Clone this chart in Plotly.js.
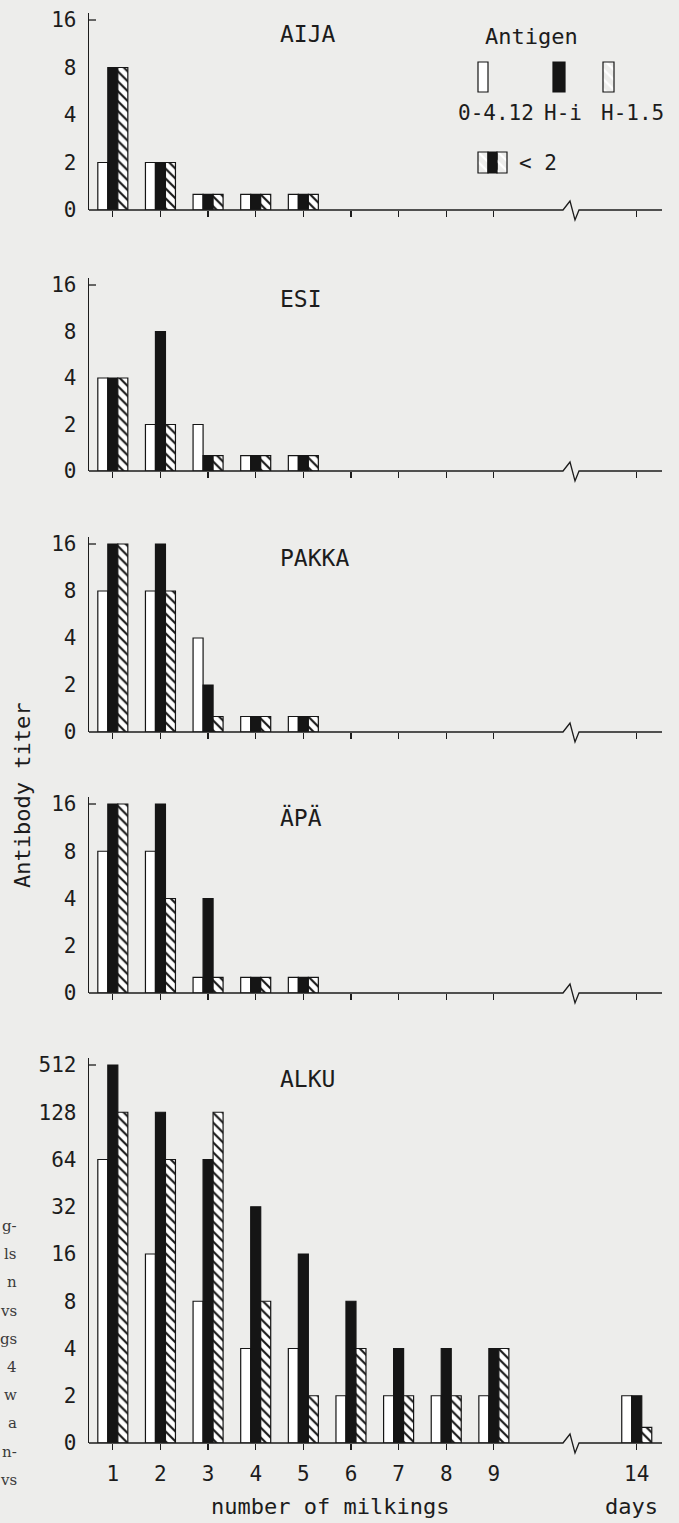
<!DOCTYPE html>
<html><head><meta charset="utf-8">
<script src="https://cdn.plot.ly/plotly-3.0.1.min.js"></script>
<style>html,body{margin:0;padding:0;background:#ededeb;overflow:hidden}</style>
</head><body><div id="chart" style="width:679px;height:1523px"></div>
<script>
// ---------------- data ----------------
const milkings = [1, 2, 3, 4, 5, 6, 7, 8, 9, 14];
const antigens = ['0-4.12', 'H-i', 'H-1.5'];
const panelNames = ['AIJA', 'ESI', 'PAKKA', 'ÄPÄ', 'ALKU'];
const ticksLow = ['0', '2', '4', '8', '16'];
const ticksAlku = ['0', '2', '4', '8', '16', '32', '64', '128', '512'];
const LT2 = '<2';
const aija_0412 = [2, 2, LT2, LT2, LT2, null, null, null, null, null];
const aija_Hi   = [8, 2, LT2, LT2, LT2, null, null, null, null, null];
const aija_H15  = [8, 2, LT2, LT2, LT2, null, null, null, null, null];
const esi_0412  = [4, 2, 2, LT2, LT2, null, null, null, null, null];
const esi_Hi    = [4, 8, LT2, LT2, LT2, null, null, null, null, null];
const esi_H15   = [4, 2, LT2, LT2, LT2, null, null, null, null, null];
const pakka_0412 = [8, 8, 4, LT2, LT2, null, null, null, null, null];
const pakka_Hi   = [16, 16, 2, LT2, LT2, null, null, null, null, null];
const pakka_H15  = [16, 8, LT2, LT2, LT2, null, null, null, null, null];
const apa_0412 = [8, 8, LT2, LT2, LT2, null, null, null, null, null];
const apa_Hi   = [16, 16, 4, LT2, LT2, null, null, null, null, null];
const apa_H15  = [16, 4, LT2, LT2, LT2, null, null, null, null, null];
const alku_0412 = [64, 16, 8, 4, 4, 2, 2, 2, 2, 2];
const alku_Hi   = [512, 128, 64, 32, 16, 8, 4, 4, 4, 2];
const alku_H15  = [128, 64, 128, 8, 2, 4, 2, 2, 4, LT2];
const captionBits = ['g-', 'ls', 'n', 'vs', 'gs', '4', 'w', 'a', 'n-', 'vs'];

// ---------------- geometry / style ----------------
const W = 679, H = 1523;
const FONT = 'DejaVu Sans Mono';
const INK = '#1c1c1c';
const BG = '#ededeb';
const px = v => v / W;
const py = v => 1 - v / H;
const axL = 89, axR = 662;
const xRange = [0.5, 12.53];
const unit = (axR - axL) / (xRange[1] - xRange[0]);
const LT2_LEVEL = 0.33;
const panels = [
  {base: 210, step: 47.5, ticks: ticksLow, series: [aija_0412, aija_Hi, aija_H15]},
  {base: 471, step: 46.5, ticks: ticksLow, series: [esi_0412, esi_Hi, esi_H15]},
  {base: 732, step: 47, ticks: ticksLow, series: [pakka_0412, pakka_Hi, pakka_H15]},
  {base: 993, step: 47.25, ticks: ticksLow, series: [apa_0412, apa_Hi, apa_H15]},
  {base: 1443, step: 47.25, ticks: ticksAlku, series: [alku_0412, alku_Hi, alku_H15]}
];
// axis break: milkings after 9 are compressed (14 days sits 3 steps after 9)
const xPos = milkings.map(m => (m <= 9 ? m : m - 2));
const level = (v, ticks) => v === null ? null : (v === LT2 ? LT2_LEVEL : ticks.indexOf(String(v)));

const HATCH = {shape: '\\', fgcolor: '#151515', bgcolor: '#ffffff', size: 7, solidity: 0.3, fillmode: 'replace'};
const styles = [
  {color: '#ffffff', pattern: {shape: ''}},
  {color: '#151515', pattern: {shape: ''}},
  {color: '#ffffff', pattern: HATCH}
];

const traces = [];
const layout = {
  width: W, height: H,
  margin: {l: 0, r: 0, t: 0, b: 0},
  paper_bgcolor: BG, plot_bgcolor: 'rgba(0,0,0,0)',
  showlegend: false,
  barmode: 'group', bargap: 0.37, bargroupgap: 0,
  font: {family: FONT, size: 21, color: INK},
  shapes: [], annotations: []
};

panels.forEach((p, i) => {
  const n = i + 1;
  const xa = n === 1 ? 'x' : 'x' + n, ya = n === 1 ? 'y' : 'y' + n;
  const nLevels = p.ticks.length - 1;
  const top = nLevels + 0.15;
  p.series.forEach((s, k) => {
    traces.push({
      type: 'bar', name: antigens[k], xaxis: xa, yaxis: ya,
      x: xPos, y: s.map(v => level(v, p.ticks)),
      marker: {color: styles[k].color, pattern: styles[k].pattern, line: {color: '#151515', width: 1.2}},
      hoverinfo: 'skip'
    });
  });
  const last = i === panels.length - 1;
  layout['xaxis' + (n === 1 ? '' : n)] = {
    domain: [px(axL), px(axR)], range: xRange, anchor: ya,
    showline: false, zeroline: false, showgrid: false,
    ticks: 'outside', ticklen: 6, tickwidth: 1.2, tickcolor: INK,
    tickvals: xPos, ticktext: milkings.map(String),
    showticklabels: last, tickfont: {size: 21, family: FONT, color: INK},
    ticklabelstandoff: 6
  };
  layout['yaxis' + (n === 1 ? '' : n)] = {
    domain: [py(p.base), py(p.base - p.step * top)], range: [0, top], anchor: xa,
    showline: true, linecolor: INK, linewidth: 1.3, zeroline: false, showgrid: false,
    ticks: '', tickvals: p.ticks.map((t, j) => j), ticktext: p.ticks,
    tickfont: {size: 21, family: FONT, color: INK}, ticklabelstandoff: 7
  };
  // top tick mark
  layout.shapes.push({type: 'line', xref: xa, yref: ya, x0: xRange[0], x1: xRange[0] + 7 / unit,
    y0: nLevels, y1: nLevels, line: {color: INK, width: 1.3}});
  // baseline with break
  const B = p.base;
  layout.shapes.push({type: 'path', xref: 'paper', yref: 'paper', layer: 'above',
    path: `M ${px(axL)},${py(B)} L ${px(563)},${py(B)} L ${px(570)},${py(B - 9)} L ${px(575)},${py(B + 10)} L ${px(579)},${py(B)} L ${px(axR)},${py(B)}`,
    line: {color: INK, width: 1.3}});
  // panel name
  layout.annotations.push({xref: 'paper', yref: 'paper', x: px(278), y: py(p.base - p.step * nLevels + 14),
    xanchor: 'left', yanchor: 'middle', showarrow: false, text: panelNames[i],
    font: {size: 23, family: FONT, color: INK}});
});

// legend sub-plot (Antigen key)
layout.xaxis6 = {domain: [0, 1], range: [0, W], visible: false, fixedrange: true, anchor: 'y6'};
layout.yaxis6 = {domain: [py(180), py(50)], range: [180, 50], visible: false, fixedrange: true, anchor: 'x6'};
traces.push({
  type: 'bar', xaxis: 'x6', yaxis: 'y6', hoverinfo: 'skip',
  x: [483, 559, 608.5, 483, 492.5, 502],
  base: [92, 92, 92, 173, 173, 173],
  y: [-30, -30, -30, -21, -21, -21],
  width: [10, 12, 11, 10, 9, 10],
  marker: {
    color: ['#ffffff', '#151515', '#ffffff', '#ffffff', '#151515', '#ffffff'],
    pattern: {shape: ['', '', '\\', '\\', '', '\\'], fgcolor: '#151515', bgcolor: '#ffffff', size: 7, solidity: 0.3, fillmode: 'replace'},
    line: {color: '#151515', width: 1.2}
  }
});
const ann = (x, y, text, extra) => Object.assign({xref: 'paper', yref: 'paper', x: px(x), y: py(y), text: text,
  showarrow: false, xanchor: 'center', yanchor: 'middle', font: {size: 21, family: FONT, color: INK}}, extra || {});
layout.annotations.push(ann(531, 37, 'Antigen', {font: {size: 22, family: FONT, color: INK}}));
layout.annotations.push(ann(496, 113, antigens[0]));
layout.annotations.push(ann(563, 113, antigens[1]));
layout.annotations.push(ann(632, 113, antigens[2]));
layout.annotations.push(ann(517, 163, '&lt; 2', {xanchor: 'left'}));
layout.annotations.push(ann(22, 796, 'Antibody titer', {textangle: -90, font: {size: 22, family: FONT, color: INK}}));
layout.annotations.push(ann(330, 1506, 'number of milkings', {font: {size: 22, family: FONT, color: INK}}));
layout.annotations.push(ann(631, 1506, 'days', {font: {size: 22, family: FONT, color: INK}}));
captionBits.forEach((t, j) => {
  layout.annotations.push(ann(19, 1226 + j * 28.2, t, {xanchor: 'right', font: {size: 15, family: 'DejaVu Serif', color: '#3a3a3a'}}));
});

Plotly.newPlot('chart', traces, layout, {staticPlot: true, displayModeBar: false});
</script></body></html>
